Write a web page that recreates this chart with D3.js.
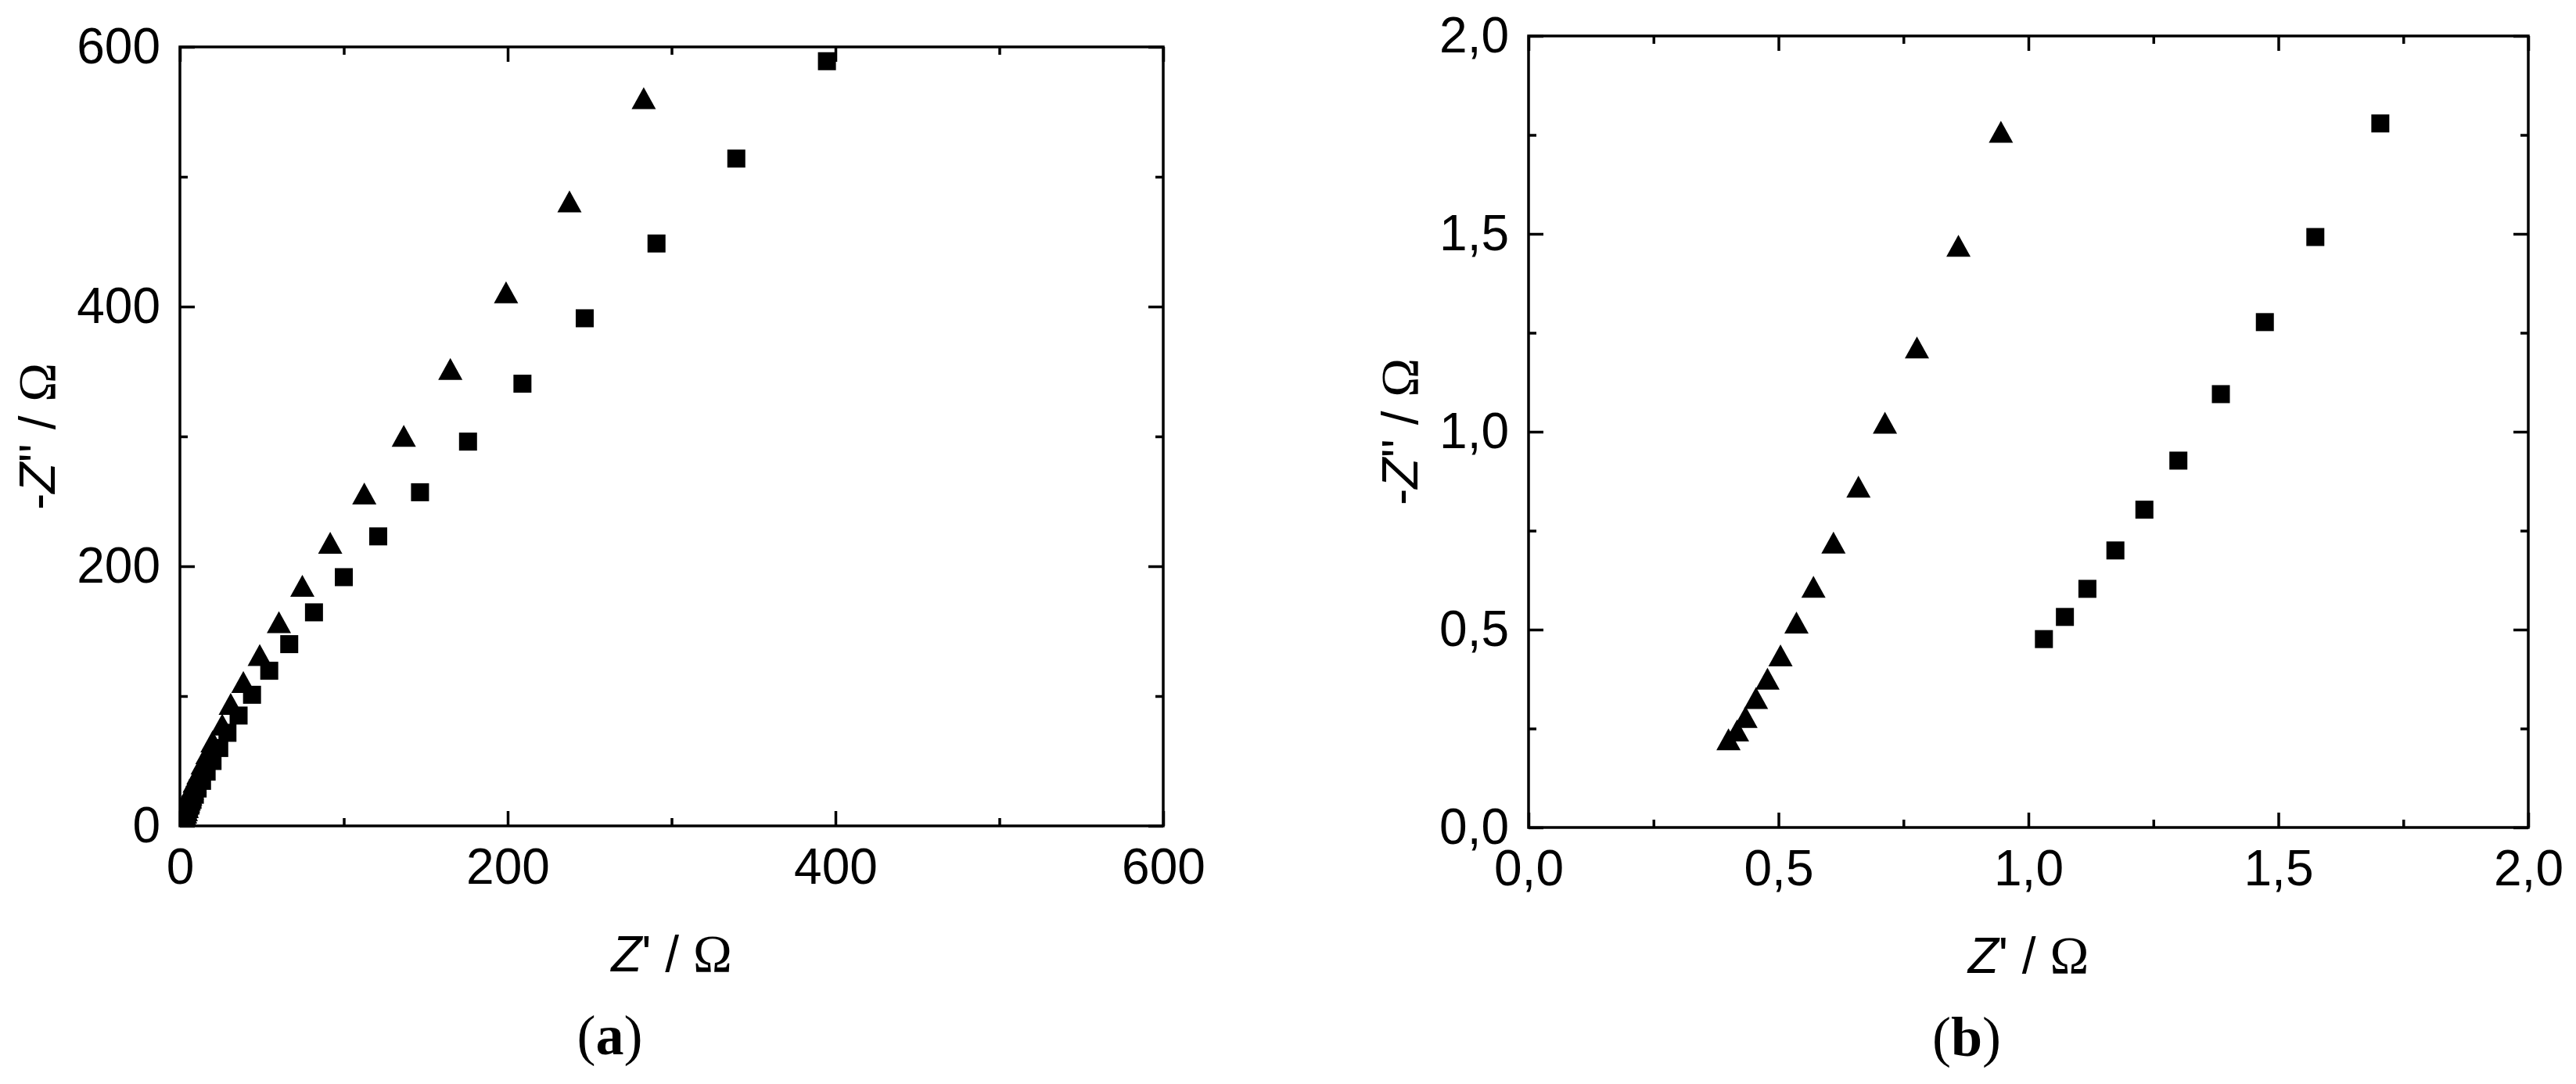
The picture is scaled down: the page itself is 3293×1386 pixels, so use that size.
<!DOCTYPE html>
<html><head><meta charset="utf-8">
<script src="https://cdn.jsdelivr.net/npm/d3@7"></script>
<style>html,body{margin:0;padding:0;background:#fff;} svg{display:block;}</style>
</head><body>
<svg id="chart" width="3293" height="1386"></svg>
<script>
// ---- data: Nyquist plot points (Z', -Z'') in Ohm ----
const squareRe = [1.031,1.073,1.118,1.174,1.232,1.30,1.385,1.473,1.574,1.704,
  1.85,2.0,2.15,2.35,2.6,2.9,3.2,3.6,4.1,4.8,5.6,6.6,7.7,9.1,
  10.8,13.5,16.3,19.9,24,29,35.8,44,54.5,66.7,81.8,100,121,146.5,175.8,209,247,290.8,339.5,394.8];
const squareIm = [0.476,0.532,0.603,0.70,0.803,0.927,1.095,1.277,1.492,1.779,
  2.1,2.5,3.0,3.6,4.4,5.3,6.4,7.8,9.4,11.4,13.8,16.6,20,24,
  28.8,34.7,41.8,50,60,71.7,85,101,119.5,140,164.5,191.6,223,257,296,340.6,391,448.6,514,589];
const triangleRe = [0.40,0.417,0.434,0.455,0.478,0.504,0.536,0.570,0.61,0.66,0.713,0.777,0.86,0.945,
  1.05,1.15,1.3,1.45,1.65,1.9,2.15,2.45,2.8,3.2,3.6,4.1,4.7,5.4,6.3,7.3,9.0,11.3,13.9,16.8,19.9,
  25.8,31,38.7,48.7,60.4,74.7,91.7,112.5,136.6,165,199,237.7,283];
const triangleIm = [0.223,0.245,0.279,0.327,0.376,0.435,0.518,0.608,0.72,0.861,1.0225,1.213,1.47,1.758,
  2.1,2.5,3.0,3.6,4.3,5.1,6.1,7.2,8.6,10.2,12.1,14.4,17.1,20.3,24.1,28.6,34,40.4,48,56,65,
  78,94,110.8,131.6,157,185,218,256,300.5,352,411,481,560.5];

// ---- ticks ----
const majorTicksA = [0,200,400,600];
const minorTicksA = [100,300,500];
const tickLabelsA = ["0","200","400","600"];
const majorTicksB = [0,0.5,1.0,1.5,2.0];
const minorTicksB = [0.25,0.75,1.25,1.75];
const tickLabelsB = ["0,0","0,5","1,0","1,5","2,0"];
const panelLabels = ["a","b"];

const squares = squareRe.map((v,i)=>({re:v, im:squareIm[i]}));
const triangles = triangleRe.map((v,i)=>({re:v, im:triangleIm[i]}));

const svg = d3.select("#chart");
const SANS = "'Liberation Sans', Arial, sans-serif";
const SERIF = "'Liberation Serif', 'Times New Roman', serif";
const SW = 3.5, MAJ = 19, MIN = 10, FS = 64;

const panels = [
  {id:"a", x0:230, x1:1487, y0:60, y1:1056, domain:[0,600], major:majorTicksA, minor:minorTicksA, labels:tickLabelsA, ylabX:70, capY:1348},
  {id:"b", x0:1954, x1:3232, y0:46, y1:1058, domain:[0,2], major:majorTicksB, minor:minorTicksB, labels:tickLabelsB, ylabX:1812, capY:1350}
];

panels.forEach((p, pi) => {
  const x = d3.scaleLinear().domain(p.domain).range([p.x0, p.x1]);
  const y = d3.scaleLinear().domain(p.domain).range([p.y1, p.y0]);
  const g = svg.append("g");

  const style = sel => {
    sel.select(".domain").remove();
    sel.selectAll(".tick line").attr("stroke","#000").attr("stroke-width",SW);
    sel.selectAll(".tick text").attr("font-family",SANS).attr("font-size",FS).attr("fill","#000");
  };
  const fmt = (d) => p.labels[p.major.indexOf(d)];

  // bottom
  g.append("g").attr("transform",`translate(0,${p.y1})`)
    .call(d3.axisBottom(x).tickValues(p.major).tickSize(-MAJ).tickSizeOuter(0).tickPadding(29).tickFormat(fmt)).call(style);
  g.append("g").attr("transform",`translate(0,${p.y1})`)
    .call(d3.axisBottom(x).tickValues(p.minor).tickSize(-MIN).tickSizeOuter(0).tickFormat("")).call(style);
  // top
  g.append("g").attr("transform",`translate(0,${p.y0})`)
    .call(d3.axisTop(x).tickValues(p.major).tickSize(-MAJ).tickSizeOuter(0).tickFormat("")).call(style);
  g.append("g").attr("transform",`translate(0,${p.y0})`)
    .call(d3.axisTop(x).tickValues(p.minor).tickSize(-MIN).tickSizeOuter(0).tickFormat("")).call(style);
  // left
  g.append("g").attr("transform",`translate(${p.x0},0)`)
    .call(d3.axisLeft(y).tickValues(p.major).tickSize(-MAJ).tickSizeOuter(0).tickPadding(25).tickFormat(fmt)).call(style);
  g.append("g").attr("transform",`translate(${p.x0},0)`)
    .call(d3.axisLeft(y).tickValues(p.minor).tickSize(-MIN).tickSizeOuter(0).tickFormat("")).call(style);
  // right
  g.append("g").attr("transform",`translate(${p.x1},0)`)
    .call(d3.axisRight(y).tickValues(p.major).tickSize(-MAJ).tickSizeOuter(0).tickFormat("")).call(style);
  g.append("g").attr("transform",`translate(${p.x1},0)`)
    .call(d3.axisRight(y).tickValues(p.minor).tickSize(-MIN).tickSizeOuter(0).tickFormat("")).call(style);

  // frame
  g.append("rect").attr("x",p.x0).attr("y",p.y0).attr("width",p.x1-p.x0).attr("height",p.y1-p.y0)
    .attr("fill","none").attr("stroke","#000").attr("stroke-width",SW);

  // clip
  const cid = "clip-"+p.id;
  svg.append("defs").append("clipPath").attr("id",cid).append("rect")
    .attr("x",p.x0).attr("y",p.y0).attr("width",p.x1-p.x0).attr("height",p.y1-p.y0);
  const pts = g.append("g").attr("clip-path",`url(#${cid})`);

  pts.selectAll("rect.sq").data(squares).join("rect").attr("class","sq")
    .attr("x",d=>x(d.re)-11.5).attr("y",d=>y(d.im)-11.5).attr("width",23).attr("height",23).attr("fill","#000");
  pts.selectAll("path.tri").data(triangles).join("path").attr("class","tri")
    .attr("d",d=>{const cx=x(d.re), cy=y(d.im); return `M${cx-15.5},${cy+14}L${cx+15.5},${cy+14}L${cx},${cy-14}Z`;})
    .attr("fill","#000");

  // x title
  const cx = (p.x0+p.x1)/2;
  const xt = g.append("text").attr("x",cx).attr("y",p.y1+186).attr("text-anchor","middle")
    .attr("font-family",SANS).attr("font-size",FS).attr("fill","#000");
  xt.append("tspan").attr("font-style","italic").text("Z");
  xt.append("tspan").text("' / ");
  xt.append("tspan").attr("font-family",SERIF).attr("font-size",67).text("Ω");

  // y title
  const cy = (p.y0+p.y1)/2;
  const yt = g.append("text").attr("transform",`translate(${p.ylabX},${cy}) rotate(-90)`).attr("text-anchor","middle")
    .attr("font-family",SANS).attr("font-size",FS).attr("fill","#000");
  yt.append("tspan").text("-");
  yt.append("tspan").attr("font-style","italic").text("Z");
  yt.append("tspan").text("'' / ");
  yt.append("tspan").attr("font-family",SERIF).attr("font-size",67).text("Ω");

  // panel caption
  const cap = g.append("text").attr("x",cx-79).attr("y",p.capY).attr("text-anchor","middle")
    .attr("font-family",SERIF).attr("font-size",72).attr("fill","#000");
  cap.append("tspan").text("(");
  cap.append("tspan").attr("font-weight","bold").text(panelLabels[pi]);
  cap.append("tspan").text(")");
});
</script>
</body></html>
